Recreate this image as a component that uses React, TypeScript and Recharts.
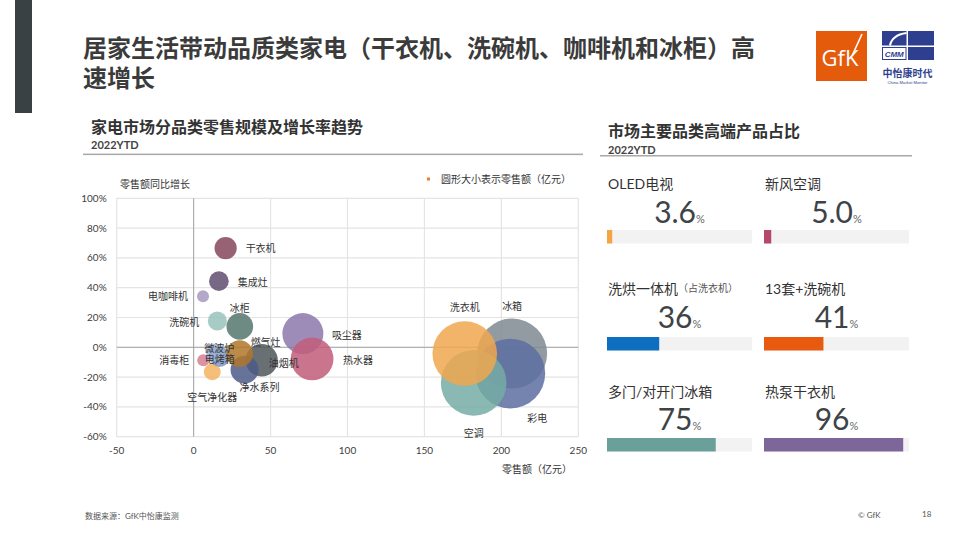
import React from 'react';
import {
  ScatterChart, Scatter, XAxis, YAxis, ZAxis, CartesianGrid, ReferenceLine, Cell,
  BarChart, Bar,
} from 'recharts';

// ---------- Bubble chart data ----------
const categories = ['吸尘器', '热水器', '干衣机', '集成灶', '电咖啡机', '洗碗机', '冰柜', '消毒柜', '空气净化器', '油烟机', '净水系列', '电烤箱', '微波炉', '燃气灶', '冰箱', '彩电', '空调', '洗衣机'];
const salesValues = [71, 77, 20.8, 16.4, 6.1, 15.4, 30, 6.3, 12.1, 44.2, 33.1, 17, 14, 29.9, 207, 205.8, 182, 176.2];
const growthValues = [9.2, -7.8, 66.5, 44.4, 34.3, 17.6, 14, -8.7, -16.5, -8.7, -15, -6.5, -3.5, -4.2, -4.2, -17.6, -23.9, -4.2];
const bubbleColors = ['#8d78ab', '#c25c79', '#85475a', '#5f4f70', '#a898c0', '#98c3bc', '#54756d', '#d37f95', '#f5b462', '#4f575a', '#4e5a87', '#7f96c4', '#9db0d6', '#b0772a', '#7f8a91', '#5c6ea1', '#76aba5', '#eea74f'];
const xTicks = [-50, 0, 50, 100, 150, 200, 250];
const yTicks = [-60, -40, -20, 0, 20, 40, 60, 80, 100];

// label placement (layout config, not data): [dx, dy, anchor]
const labelLayout: Record<string, [number, number, string]> = {
  '干衣机': [20, 0, 'start'],
  '集成灶': [19, 1, 'start'],
  '电咖啡机': [-15, 0, 'end'],
  '洗碗机': [-18, 1, 'end'],
  '冰柜': [0, -18, 'middle'],
  '吸尘器': [29, 1, 'start'],
  '热水器': [31, 1, 'start'],
  '燃气灶': [11, -12, 'start'],
  '微波炉': [4, -5, 'middle'],
  '电烤箱': [0, 2, 'middle'],
  '消毒柜': [-14, 0, 'end'],
  '空气净化器': [0, 25, 'middle'],
  '油烟机': [7, 3, 'start'],
  '净水系列': [-5, 17, 'start'],
  '洗衣机': [0, -47, 'middle'],
  '冰箱': [0, -48, 'middle'],
  '彩电': [27, 44, 'middle'],
  '空调': [0, 50, 'middle'],
};

// ---------- Right panel data ----------
const premiumLabels = ['OLED电视', '新风空调', '洗烘一体机', '13套+洗碗机', '多门/对开门冰箱', '热泵干衣机'];
const premiumNotes = ['', '', '（占洗衣机）', '', '', ''];
const premiumValues = [3.6, 5.0, 36, 41, 75, 96];
const premiumColors = ['#f4a541', '#b5496a', '#0e6ebf', '#e85a10', '#6ba09a', '#7d6699'];

const FONT = "Lato, 'Noto Sans CJK SC', sans-serif";

const points = categories.map((name, i) => ({
  name,
  x: salesValues[i],
  y: growthValues[i],
  z: salesValues[i],
}));

const LabelShape = (props: any) => {
  const { cx, cy, payload } = props;
  const lay = labelLayout[payload.name] || [0, 0, 'middle'];
  return (
    <text
      x={cx + lay[0]}
      y={cy + lay[1]}
      textAnchor={lay[2] as any}
      dominantBaseline="central"
      fontSize={10}
      fill="#333"
      fontFamily={FONT}
    >
      {payload.name}
    </text>
  );
};

const MiniBar = ({ value, color }: { value: number; color: string }) => (
  <BarChart
    width={145}
    height={15}
    data={[{ name: 'v', v: value }]}
    layout="vertical"
    margin={{ top: 0, right: 0, bottom: 0, left: 0 }}
  >
    <XAxis type="number" domain={[0, 100]} hide />
    <YAxis type="category" dataKey="name" hide />
    <Bar dataKey="v" fill={color} background={{ fill: '#f2f2f2' }} barSize={15} isAnimationActive={false} />
  </BarChart>
);

const colX = [607, 764];
const rowLabelY = [183.3, 288.3, 391.7];
const rowNumY = [223.3, 328.3, 430];
const rowBarY = [229.3, 336, 437.3];

export default function App() {
  return (
    <div style={{ position: 'absolute', left: 0, top: 0, width: 960, height: 540, background: '#fff', fontFamily: FONT, overflow: 'hidden' }}>
      {/* Bubble chart */}
      <div style={{ position: 'absolute', left: 60, top: 170 }}>
        <ScatterChart width={540} height={300} margin={{ top: 28.3, right: 21.7, bottom: 13.3, left: 16.7 }}>
          <CartesianGrid stroke="#e4e4e4" strokeWidth={1.2} />
          <XAxis
            type="number"
            dataKey="x"
            domain={[-50, 250]}
            ticks={xTicks}
            axisLine={false}
            tickLine={false}
            tickSize={0}
            tickMargin={10}
            height={20}
            tick={{ fontSize: 10, fill: '#404040', fontFamily: FONT }}
          />
          <YAxis
            type="number"
            dataKey="y"
            domain={[-60, 100]}
            ticks={yTicks}
            tickFormatter={(v: number) => `${v}%`}
            axisLine={false}
            tickLine={false}
            tickSize={0}
            tickMargin={10}
            width={40}
            tick={{ fontSize: 10, fill: '#404040', fontFamily: FONT }}
          />
          <ZAxis type="number" dataKey="z" domain={[0, 250]} range={[0, 4648]} />
          <ReferenceLine x={0} stroke="#a6a6a6" strokeWidth={1} />
          <ReferenceLine y={0} stroke="#a6a6a6" strokeWidth={1} />
          <Scatter data={points} isAnimationActive={false}>
            {points.map((p, i) => (
              <Cell key={p.name} fill={bubbleColors[i]} fillOpacity={0.85} />
            ))}
          </Scatter>
          <Scatter data={points} isAnimationActive={false} shape={LabelShape} />
        </ScatterChart>
      </div>

      {/* Mini bars */}
      {premiumValues.map((v, i) => (
        <div key={premiumLabels[i]} style={{ position: 'absolute', left: colX[i % 2], top: rowBarY[Math.floor(i / 2)] }}>
          <MiniBar value={v} color={premiumColors[i]} />
        </div>
      ))}

      {/* Text & decorations overlay */}
      <svg width={960} height={540} style={{ position: 'absolute', left: 0, top: 0, pointerEvents: 'none' }} fontFamily={FONT}>
        <rect x={15} y={0} width={17} height={113} fill="#3a4145" />

        <text x={83} y={47.5} dominantBaseline="central" fontSize={24} fontWeight={700} fill="#3b3b3b">居家生活带动品质类家电（干衣机、洗碗机、咖啡机和冰柜）高</text>
        <text x={83} y={77.5} dominantBaseline="central" fontSize={24} fontWeight={700} fill="#3b3b3b">速增长</text>

        {/* GfK logo */}
        <rect x={816} y={31} width={51} height={50} fill="#e55b0c" />
        <text x={840} y={66} textAnchor="middle" fontSize={22} fill="#fff" fontFamily="'Open Sans', Lato, sans-serif">GfK</text>
        <line x1={862} y1={34} x2={852} y2={56} stroke="#fff" strokeWidth={1.6} />

        {/* CMM logo */}
        <rect x={882} y={31} width={24.5} height={14.5} fill="#2f3f8f" />
        <path d="M 890 45.5 Q 892 35 906.5 33" stroke="#fff" strokeWidth={2} fill="none" />
        <rect x={908} y={31} width={26} height={14.5} fill="#2f3f8f" />
        <rect x={908} y={47} width={26} height={13} fill="#2f3f8f" />
        <rect x={882.5} y={47.5} width={23.5} height={12} fill="#fff" stroke="#2f3f8f" strokeWidth={1} />
        <text x={894.2} y={56.5} textAnchor="middle" fontSize={8} fontStyle="italic" fontWeight={700} fill="#2f3f8f" fontFamily="'Liberation Sans', sans-serif">CMM</text>
        <text x={907.5} y={73} textAnchor="middle" dominantBaseline="central" fontSize={10} fontWeight={700} fill="#2f3f8f">中怡康时代</text>
        <text x={907.5} y={82.5} textAnchor="middle" dominantBaseline="central" fontSize={4.2} fill="#2f3f8f" fontFamily="'Liberation Sans', sans-serif">China Market Monitor</text>

        {/* Left panel header */}
        <text x={91} y={126} dominantBaseline="central" fontSize={16} fontWeight={700} fill="#333">家电市场分品类零售规模及增长率趋势</text>
        <text x={91} y={144.3} dominantBaseline="central" fontSize={11} fontWeight={700} fill="#444">2022YTD</text>
        <rect x={83} y={153.6} width={500} height={1.5} fill="#a8a8a8" />

        {/* Chart annotations */}
        <text x={120} y={184} dominantBaseline="central" fontSize={10} fill="#333">零售额同比增长</text>
        <rect x={427} y={177.5} width={3} height={3} fill="#ed7d31" />
        <text x={441} y={179} dominantBaseline="central" fontSize={10} fill="#333">圆形大小表示零售额（亿元）</text>
        <text x={502} y={469} dominantBaseline="central" fontSize={10} fill="#333">零售额（亿元）</text>

        {/* Right panel header */}
        <text x={608} y={130} dominantBaseline="central" fontSize={16} fontWeight={700} fill="#333">市场主要品类高端产品占比</text>
        <text x={608} y={149.3} dominantBaseline="central" fontSize={11} fontWeight={700} fill="#444">2022YTD</text>
        <rect x={600} y={155} width={312} height={1.5} fill="#a8a8a8" />

        {premiumValues.map((v, i) => {
          const cx = colX[i % 2];
          const r = Math.floor(i / 2);
          return (
            <g key={premiumLabels[i]}>
              <text x={cx + 1} y={rowLabelY[r]} dominantBaseline="central" fontSize={14} fill="#333">
                {premiumLabels[i]}
                {premiumNotes[i] ? <tspan fontSize={10} fill="#555">{premiumNotes[i]}</tspan> : null}
              </text>
              <text x={cx + 72.5} y={rowNumY[r]} textAnchor="middle" fontSize={30} fill="#3e4347">
                {v < 10 ? v.toFixed(1) : String(v)}
                <tspan fontSize={11} fill="#666">%</tspan>
              </text>
            </g>
          );
        })}

        {/* Footer */}
        <text x={85} y={516} dominantBaseline="central" fontSize={8} fill="#555">数据来源：GfK中怡康监测</text>
        <text x={858} y={515} dominantBaseline="central" fontSize={8} fill="#555">© GfK</text>
        <text x={922} y={514} dominantBaseline="central" fontSize={8} fill="#555">18</text>
      </svg>
    </div>
  );
}
